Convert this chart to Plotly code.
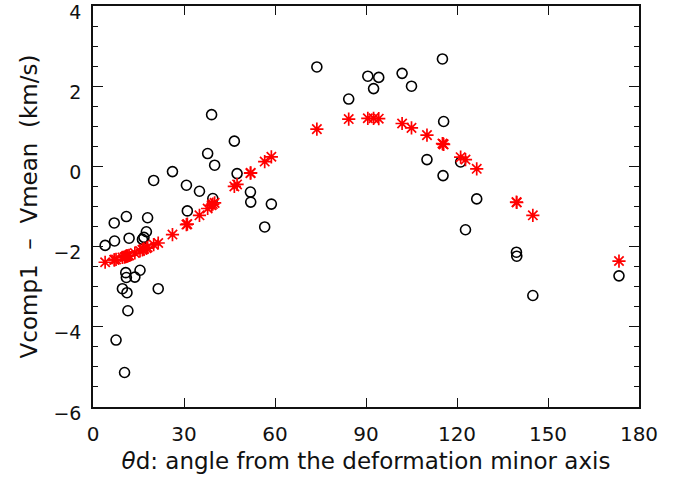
import plotly.graph_objects as go

theta_d = [4.0, 7.0, 7.1, 7.6, 9.7, 10.4, 10.8, 11.0, 11.0, 11.2, 11.5, 11.9, 13.8, 15.5,
           16.3, 16.8, 17.6, 18.0, 20.0, 21.5, 26.2, 30.8, 31.1, 35.1, 37.8, 39.1, 39.5,
           40.1, 46.6, 47.5, 51.9, 52.0, 56.6, 58.8, 73.8, 84.3, 90.6, 92.5, 94.2, 101.9,
           105.0, 110.1, 115.2, 115.6, 115.4, 121.2, 122.8, 126.5, 139.6, 139.7, 145.0, 173.4]

v_observed = [-1.97, -1.41, -1.86, -4.33, -3.05, -5.14, -2.65, -1.25, -2.77, -3.15, -3.60,
              -1.79, -2.76, -2.59, -1.82, -1.77, -1.63, -1.28, -0.35, -3.05, -0.13, -0.47,
              -1.11, -0.62, 0.32, 1.29, -0.80, 0.03, 0.63, -0.18, -0.64, -0.89, -1.51, -0.94,
              2.48, 1.68, 2.25, 1.94, 2.22, 2.32, 2.00, 0.17, 2.68, 1.12, -0.23, 0.11, -1.58,
              -0.81, -2.14, -2.24, -3.22, -2.73]

v_model = [-2.39, -2.33, -2.33, -2.32, -2.27, -2.26, -2.25, -2.24, -2.24, -2.24, -2.23,
           -2.22, -2.16, -2.11, -2.08, -2.06, -2.04, -2.02, -1.95, -1.91, -1.70, -1.45,
           -1.44, -1.22, -1.05, -0.97, -0.94, -0.91, -0.50, -0.45, -0.17, -0.16, 0.12, 0.24,
           0.93, 1.18, 1.20, 1.20, 1.19, 1.07, 0.96, 0.78, 0.57, 0.55, 0.56, 0.23, 0.17,
           -0.06, -0.89, -0.90, -1.22, -2.36]

x_ticks = [0, 30, 60, 90, 120, 150, 180]
y_ticks = [-6, -4, -2, 0, 2, 4]

font_family = "DejaVu Sans"
ink = "#111111"

fig = go.Figure()
fig.add_trace(go.Scatter(
    x=theta_d, y=v_observed, mode="markers",
    marker=dict(symbol="circle-open", size=10, color="black", line=dict(width=1.6, color="black")),
    showlegend=False))
fig.add_trace(go.Scatter(
    x=theta_d, y=v_model, mode="markers",
    marker=dict(symbol="asterisk-open", size=11, color="red", line=dict(width=1.7, color="red")),
    showlegend=False))

fig.update_layout(
    width=686, height=477,
    margin=dict(l=93, r=47, t=6, b=70),
    paper_bgcolor="white", plot_bgcolor="white",
    font=dict(family=font_family, size=20, color=ink),
)
fig.update_xaxes(
    range=[0, 180], tickvals=x_ticks, ticktext=[str(v) for v in x_ticks],
    automargin=False, showgrid=False, zeroline=False,
    showline=True, linecolor=ink, linewidth=1.5, mirror="ticks",
    ticks="inside", ticklen=9, tickwidth=1.2, tickcolor=ink,
    tickfont=dict(size=20), ticklabelstandoff=8,
    title=dict(text="<i>θ</i>d: angle from the deformation minor axis", standoff=8,
               font=dict(size=23)),
)
fig.update_yaxes(
    range=[-6, 4], tickvals=y_ticks, ticktext=[str(v).replace("-", "−") for v in y_ticks],
    automargin=False, showgrid=False, zeroline=False,
    showline=True, linecolor=ink, linewidth=1.5, mirror="ticks",
    ticks="inside", ticklen=10, tickwidth=1.2, tickcolor=ink,
    tickfont=dict(size=19), ticklabeloverflow="allow", ticklabelstandoff=6, ticklabelshift=6,
    minor=dict(dtick=0.5, ticks="inside", ticklen=5, tickwidth=1.2, tickcolor=ink, showgrid=False),
    title=dict(text="Vcomp1 &nbsp;– &nbsp;Vmean &nbsp;(km/s)", standoff=9, font=dict(size=23)),
)

fig.write_html("out.html", config={"displayModeBar": False},
               post_script="document.body.style.margin='0';")
